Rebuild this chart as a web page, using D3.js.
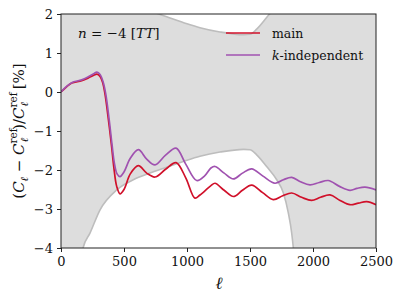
<!DOCTYPE html>
<html><head><meta charset="utf-8">
<script src="https://cdn.jsdelivr.net/npm/d3@7"></script>
<style>body{margin:0;background:#fff}svg text{font-family:"DejaVu Serif","Liberation Serif","Times New Roman",Tinos,"Noto Serif",serif;fill:#111}</style>
</head><body><svg id="c" width="399" height="300"></svg>
<script>
const mainEll = [0,40,85,164,217,260,285,310,330,349,376,400,420,442,468,500,550,614,680,746,830,913,990,1063,1103,1190,1222,1295,1368,1440,1513,1600,1685,1760,1831,1910,1989,2060,2135,2215,2294,2360,2426,2500];
const mainVal = [0,0.12,0.23,0.29,0.36,0.43,0.46,0.40,0.25,-0.05,-0.70,-1.35,-1.95,-2.42,-2.61,-2.50,-2.10,-1.89,-2.08,-2.18,-1.98,-1.81,-2.20,-2.72,-2.64,-2.40,-2.34,-2.52,-2.68,-2.52,-2.39,-2.58,-2.76,-2.66,-2.59,-2.70,-2.78,-2.70,-2.64,-2.78,-2.89,-2.85,-2.81,-2.89];
const kindEll = [0,40,85,164,217,260,285,310,335,355,382,405,425,445,468,500,550,614,680,746,830,913,990,1077,1140,1190,1222,1295,1368,1440,1513,1600,1698,1765,1831,1900,1976,2050,2121,2210,2294,2350,2413,2500];
const kindVal = [0,0.13,0.24,0.31,0.39,0.47,0.51,0.45,0.25,-0.05,-0.70,-1.35,-1.85,-2.10,-2.17,-2.05,-1.70,-1.48,-1.72,-1.87,-1.62,-1.44,-1.85,-2.27,-2.15,-1.95,-1.91,-2.08,-2.23,-2.08,-1.97,-2.15,-2.34,-2.25,-2.19,-2.30,-2.38,-2.32,-2.27,-2.42,-2.52,-2.47,-2.44,-2.51];
const sigmaEll = [0,100,140,175,230,310,442,574,706,839,1000,1103,1262,1450,1500,1553,1632,1712,1765,1804,1831,1844,1870,1900,2500];
const sigmaVal = [20,8,5.2,4.0,3.62,3.02,2.51,2.25,2.08,1.93,1.75,1.65,1.54,1.47,1.48,1.61,1.91,2.25,2.59,3.10,3.62,4.0,5,8,20];
const xTicks = [0,500,1000,1500,2000,2500];
const yTicks = [-4,-3,-2,-1,0,1,2];
const seriesNames = ["main","k-independent"];
const colors = ["#d0102a","#a052b0"];

const svg = d3.select("#c");
const L=61,R=376,T=14,B=248;
const x = d3.scaleLinear().domain([0,2500]).range([L,R]);
const y = d3.scaleLinear().domain([-4,2]).range([B,T]);

svg.append("defs").append("clipPath").attr("id","clip").append("rect").attr("x",L).attr("y",T).attr("width",R-L).attr("height",B-T);
const g = svg.append("g").attr("clip-path","url(#clip)");
const sig = sigmaEll.map((l,i)=>({l,s:sigmaVal[i]}));
g.append("path").datum(sig).attr("fill","#dddddd")
 .attr("d",d3.area().x(d=>x(d.l)).y0(d=>y(-d.s)).y1(d=>y(d.s)).curve(d3.curveMonotoneX));
["up","lo"].forEach(k=>{
 g.append("path").datum(sig).attr("fill","none").attr("stroke","#bdbdbd").attr("stroke-width",1.6)
  .attr("d",d3.line().x(d=>x(d.l)).y(d=>y(k==="up"?d.s:-d.s)).curve(d3.curveMonotoneX));
});
const line = d3.line().x(d=>x(d[0])).y(d=>y(d[1])).curve(d3.curveCatmullRom.alpha(0.5));
g.append("path").datum(mainEll.map((l,i)=>[l,mainVal[i]])).attr("fill","none").attr("stroke",colors[0]).attr("stroke-width",1.7).attr("d",line);
g.append("path").datum(kindEll.map((l,i)=>[l,kindVal[i]])).attr("fill","none").attr("stroke",colors[1]).attr("stroke-width",1.7).attr("d",line);

// frame
svg.append("rect").attr("x",L).attr("y",T).attr("width",R-L).attr("height",B-T).attr("fill","none").attr("stroke","#222").attr("stroke-width",1);
const xa = svg.append("g").attr("transform",`translate(0,${B})`).call(d3.axisBottom(x).tickValues(xTicks).tickSize(4).tickPadding(5).tickFormat(d3.format("d")));
const ya = svg.append("g").attr("transform",`translate(${L},0)`).call(d3.axisLeft(y).tickValues(yTicks).tickSize(4).tickPadding(4).tickFormat(d=>d<0?"\u2212"+(-d):String(d)));
[xa,ya].forEach(a=>{a.attr("font-family",null);a.select(".domain").remove();a.selectAll("line").attr("stroke","#222");a.selectAll("text").attr("font-size",13).attr("fill","#111");});

// labels
svg.append("text").attr("x",219).attr("y",289).attr("text-anchor","middle").attr("font-size",17).attr("font-style","italic").text("\u2113");
const yl = svg.append("text").attr("transform","translate(24,131) rotate(-90)").attr("text-anchor","middle").attr("font-size",15);
yl.append("tspan").text("(");
yl.append("tspan").attr("font-style","italic").text("C");
yl.append("tspan").attr("font-size",10.5).attr("font-style","italic").attr("dy",4).text("\u2113");
yl.append("tspan").attr("dy",-4).text(" \u2212 ");
yl.append("tspan").attr("font-style","italic").text("C");
yl.append("tspan").attr("font-size",10.5).attr("dy",-7).text("ref");
yl.append("tspan").attr("font-size",10.5).attr("font-style","italic").attr("dx",-14).attr("dy",11).text("\u2113");
yl.append("tspan").attr("dx",8).attr("dy",-4).text(")/");
yl.append("tspan").attr("font-style","italic").text("C");
yl.append("tspan").attr("font-size",10.5).attr("dy",-7).text("ref");
yl.append("tspan").attr("font-size",10.5).attr("font-style","italic").attr("dx",-14).attr("dy",11).text("\u2113");
yl.append("tspan").attr("dx",8).attr("dy",-4).text(" [%]");

const ann = svg.append("text").attr("x",78).attr("y",38).attr("font-size",13.5);
ann.append("tspan").attr("font-style","italic").text("n");
ann.append("tspan").text(" = \u22124 [");
ann.append("tspan").attr("font-style","italic").text("TT");
ann.append("tspan").text("]");

seriesNames.forEach((n,i)=>{
 const yy = 33 + i*22;
 svg.append("line").attr("x1",226).attr("x2",260).attr("y1",yy).attr("y2",yy).attr("stroke",colors[i]).attr("stroke-width",1.7);
 const t = svg.append("text").attr("x",272).attr("y",yy+4.5).attr("font-size",12.5);
 if(n==="k-independent"){t.append("tspan").attr("font-style","italic").text("k");t.append("tspan").text("-independent");}
 else t.text(n);
});
</script></body></html>
